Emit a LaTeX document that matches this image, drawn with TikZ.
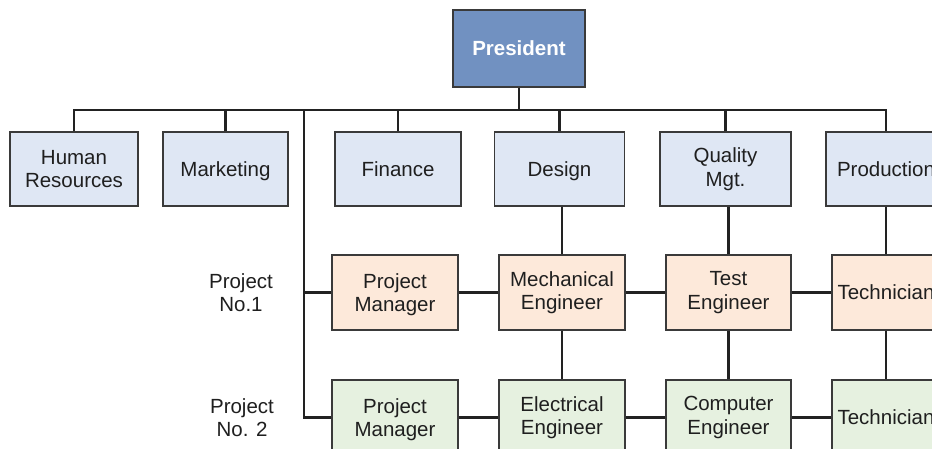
\documentclass[tikz,border=0pt]{standalone}
\usepackage{fontspec}
\setmainfont{Liberation Sans}
\usepackage{tikz}
\usetikzlibrary{calc}

\definecolor{presblue}{HTML}{7191C1}
\definecolor{deptblue}{HTML}{DFE7F4}
\definecolor{projorange}{HTML}{FDE9DA}
\definecolor{projgreen}{HTML}{E6F1E0}
\definecolor{boxline}{HTML}{3A3A3A}
\definecolor{inkline}{HTML}{222222}

\tikzset{
	orgbox/.style={draw=boxline, line width=1.2pt, text=black!88, align=center,
		font=\fontsize{20.5}{23.5}\selectfont, inner sep=0pt},
	oneline/.style={text depth=0pt},
	lowtext/.style={text depth=-4.5pt},
	pres/.style={orgbox, oneline, fill=presblue, text=white, font=\fontsize{20.5}{23.5}\selectfont\bfseries,
		minimum width=132pt, minimum height=77pt},
	dept/.style={orgbox, fill=deptblue, minimum height=74pt},
	projone/.style={orgbox, fill=projorange, minimum height=75pt},
	projtwo/.style={orgbox, fill=projgreen, minimum height=75pt},
	link/.style={draw=inkline, line width=2.8pt},
	sidelabel/.style={align=center, text=black!88, font=\fontsize{20.5}{23.5}\selectfont}
}

\begin{document}
\begin{tikzpicture}[x=1pt, y=-1pt]
			%%%%% START %%%%%
			\clip (0, 0) rectangle (932, 449);
			\fill[white] (0, 0) rectangle (932, 449);
			
			\coordinate (bus) at (0, 110);
			\coordinate (spine) at (304, 110);
			
			\node[pres] (president) at (519, 48.5) {President};
			
			\node[dept, minimum width=128pt] (hr) at (74, 169) {Human\\Resources};
			\node[dept, oneline, minimum width=125pt] (marketing) at (225.5, 169) {Marketing};
			\node[dept, oneline, minimum width=126pt] (finance) at (398, 169) {Finance};
			\node[dept, oneline, minimum width=130pt] (design) at (559.5, 169) {Design};
			\node[dept, minimum width=131pt] (quality) at (725.5, 169) {Quality\\Mgt.};
			\node[dept, oneline, minimum width=120pt] (production) at (886, 169) {Production};
			
			\node[projone, lowtext, minimum width=126pt] (pmone) at (395, 292.5) {Project\\Manager};
			\node[projone, minimum width=126pt] (mecheng) at (562, 292.5) {Mechanical\\Engineer};
			\node[projone, minimum width=125pt] (testeng) at (728.5, 292.5) {Test\\Engineer};
			\node[projone, oneline, minimum width=108pt] (techone) at (886, 292.5) {Technician};
			
			\node[projtwo, lowtext, minimum width=126pt] (pmtwo) at (395, 417.5) {Project\\Manager};
			\node[projtwo, minimum width=126pt] (eleceng) at (562, 417.5) {Electrical\\Engineer};
			\node[projtwo, minimum width=125pt] (compeng) at (728.5, 417.5) {Computer\\Engineer};
			\node[projtwo, oneline, minimum width=108pt] (techtwo) at (886, 417.5) {Technician};
			
			\node[sidelabel] (projlabelone) at (241, 292.5) {Project\\No.1};
			\node[sidelabel] (projlabeltwo) at (242, 417.5) {Project\\No. 2};
			
			% top bus
			\draw[link] (president.south) -- (president.south |- bus);
			\draw[link] (hr.north) -- (hr.north |- bus) -- (production.north |- bus) -- (production.north);
			\foreach \dep in {marketing, finance, design, quality}
				\draw[link] (\dep.north) -- (\dep.north |- bus);
			
			% project lines
			\draw[link] (spine) |- (pmtwo.west);
			\draw[link] (spine |- pmone.west) -- (pmone.west);
			\draw[link] (pmone.east) -- (mecheng.west);
			\draw[link] (mecheng.east) -- (testeng.west);
			\draw[link] (testeng.east) -- (techone.west);
			\draw[link] (pmtwo.east) -- (eleceng.west);
			\draw[link] (eleceng.east) -- (compeng.west);
			\draw[link] (compeng.east) -- (techtwo.west);
			
			% columns
			\draw[link] (mecheng.north |- design.south) -- (mecheng.north);
			\draw[link] (mecheng.south) -- (eleceng.north);
			\draw[link] (testeng.north |- quality.south) -- (testeng.north);
			\draw[link] (testeng.south) -- (compeng.north);
			\draw[link] (production.south) -- (techone.north);
			\draw[link] (techone.south) -- (techtwo.north);
			%%%%% END %%%%%
\end{tikzpicture}
\end{document}
